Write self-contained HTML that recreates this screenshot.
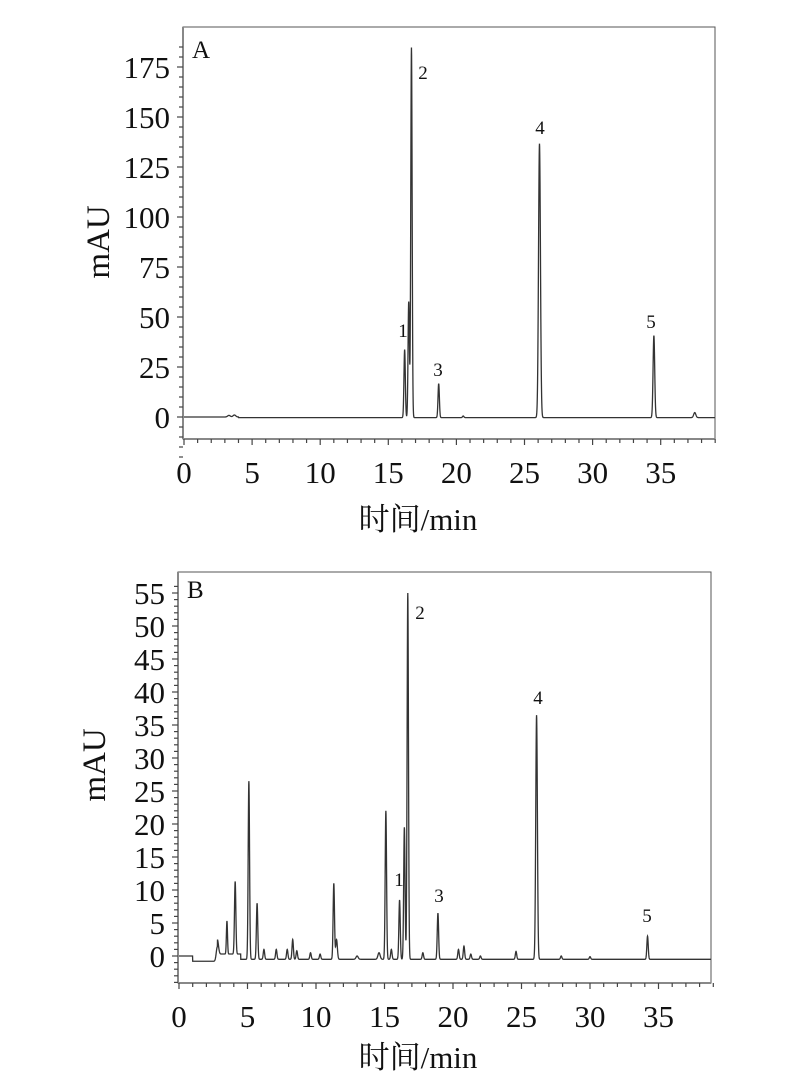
<!DOCTYPE html>
<html><head><meta charset="utf-8"><style>
body{margin:0;background:#fff}
svg{display:block}
text{font-family:"Liberation Serif","Noto Serif CJK SC",serif;fill:#111}
</style></head><body>
<svg id="s" width="809" height="1088" viewBox="0 0 809 1088" xmlns="http://www.w3.org/2000/svg">
<text x="192" y="58" font-size="25">A</text>
<text x="187" y="598" font-size="25">B</text>
<text transform="translate(109,242) rotate(-90)" font-size="33" text-anchor="middle">mAU</text>
<text transform="translate(105,765) rotate(-90)" font-size="33" text-anchor="middle">mAU</text>
<text x="418" y="530" font-size="31" text-anchor="middle">时间/min</text>
<text x="418" y="1068" font-size="31" text-anchor="middle">时间/min</text>
<g font-size="19" text-anchor="middle">
<text x="403" y="337">1</text><text x="423" y="79">2</text><text x="438" y="376">3</text><text x="540" y="134">4</text><text x="651" y="328">5</text>
<text x="399" y="886">1</text><text x="420" y="619">2</text><text x="439" y="902">3</text><text x="538" y="704">4</text><text x="647" y="922">5</text>
</g>
</svg>
<script>
const s=document.getElementById('s');const NS='http://www.w3.org/2000/svg';
function el(t,a,txt){const e=document.createElementNS(NS,t);for(const k in a)e.setAttribute(k,a[k]);if(txt!==undefined)e.textContent=txt;s.appendChild(e);return e;}
function panel(P){
 const X=t=>P.x0+t*P.px, Y=v=>P.y0-v*P.py;
 el('rect',{x:P.x0-1,y:P.top,width:P.right-P.x0+1,height:P.bot-P.top,fill:'none',stroke:'#555','stroke-width':1});
 el('line',{x1:P.x0-1,y1:P.top,x2:P.x0-1,y2:P.bot,stroke:'#888','stroke-width':2});
 el('line',{x1:P.x0-1,y1:P.bot,x2:P.right,y2:P.bot,stroke:'#888','stroke-width':2});
 for(let t=0;t<=39;t++){const x=X(t);const maj=t%5==0;el('line',{x1:x,y1:P.bot,x2:x,y2:P.bot+(maj?6:4),stroke:'#444','stroke-width':1.2});
  if(maj&&t<=35)el('text',{x:x,y:P.bot+44,'font-size':31,'text-anchor':'middle'},String(t));}
 for(let v=P.ymin;v<=P.ymax;v+=P.minor){const y=Y(v);if(y<P.top-1)continue;const maj=Math.abs(v%P.major)<1e-6;
  el('line',{x1:P.x0-1,y1:y,x2:P.x0-(maj?7:5),y2:y,stroke:'#444','stroke-width':1.2});
  if(maj&&v>=0)el('text',{x:P.x0-14,y:y+11,'font-size':31,'text-anchor':'end'},String(v));}
 let d='';
 for(let t=0;t<=(P.right-P.x0)/P.px;t+=0.01){let v=P.base(t);for(const p of P.peaks){const z=(t-p[0])/(p[2]||0.05);if(Math.abs(z)<6)v+=p[1]*Math.exp(-z*z/2);}
  d+=(d?'L':'M')+X(t).toFixed(2)+' '+Y(v).toFixed(2);}
 el('path',{d:d,fill:'none',stroke:'#333','stroke-width':1.3});
}
panel({x0:184,px:13.62,y0:417,py:2.0,top:27,bot:439,right:715,ymin:-20,ymax:185,minor:5,major:25,
 base:t=>t<4?0:-0.3,
 peaks:[[3.3,0.8,.1],[3.7,1,.1],[16.2,34,.05],[16.5,58,.05],[16.7,185,.05],[18.7,17,.05],[20.5,0.8,.05],[26.1,137,.07],[34.5,41,.06],[37.5,2.5,.08]]});
panel({x0:179,px:13.7,y0:956,py:6.6,top:572,bot:983,right:711,ymin:-4,ymax:56,minor:1,major:5,
 base:t=>t<1?0:(t<2.8?-0.8:(t<4.5?0.3:-0.5)),
 peaks:[[2.8,2.2,.08],[3.5,5,.04],[4.1,11,.05],[5.1,27,.05],[5.7,8.5,.05],[6.2,1.5,.05],[7.1,1.5,.05],[7.9,1.5,.05],[8.3,3,.05],[8.6,1.3,.05],[9.6,1,.05],[10.3,0.8,.05],[11.3,11.5,.05],[11.5,3,.06],[13,0.5,.08],[14.6,1,.08],[15.1,22.5,.05],[15.5,1.5,.05],[16.1,9,.05],[16.45,20,.05],[16.7,55.5,.05],[17.8,1,.05],[18.9,7,.05],[20.4,1.5,.05],[20.8,2,.05],[21.3,0.8,.05],[22,0.5,.05],[24.6,1.2,.05],[26.1,37,.06],[27.9,0.5,.05],[30,0.4,.05],[34.2,3.5,.05]]});
</script>
</body></html>
